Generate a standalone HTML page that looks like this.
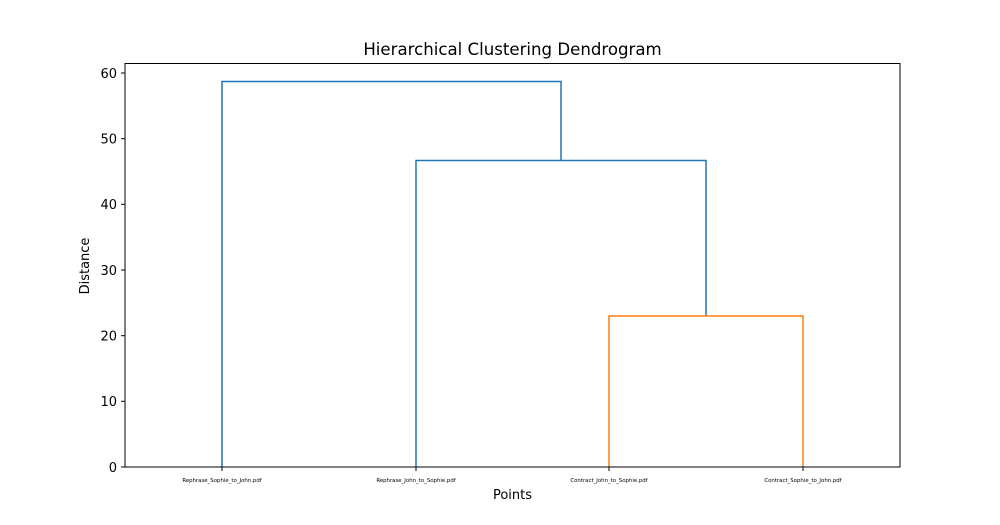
<!DOCTYPE html>
<html><head><style>html,body{margin:0;padding:0;background:#fff}svg{display:block}</style></head><body>
<svg width="1000" height="525" xmlns="http://www.w3.org/2000/svg" font-family="DejaVu Sans, Liberation Sans, sans-serif">
<rect width="1000" height="525" fill="#fff"/>
<text x="512.5" y="55" font-size="16.6" text-anchor="middle" fill="#000">Hierarchical Clustering Dendrogram</text>
<g fill="none" stroke-width="1.5">
<path d="M222 467V81.5H561V160" stroke="#1f77b4"/>
<path d="M416 467V160.5H706V316" stroke="#1f77b4"/>
<path d="M609 467V316H803V467" stroke="#ff7f0e"/>
</g>
<rect x="125" y="63.5" width="775" height="403.5" fill="none" stroke="#000" stroke-width="1"/>
<g stroke="#000" stroke-width="1">
<line x1="121" x2="125" y1="467" y2="467"/><line x1="121" x2="125" y1="401.3" y2="401.3"/>
<line x1="121" x2="125" y1="335.7" y2="335.7"/><line x1="121" x2="125" y1="270" y2="270"/>
<line x1="121" x2="125" y1="204.3" y2="204.3"/><line x1="121" x2="125" y1="138.7" y2="138.7"/>
<line x1="121" x2="125" y1="73" y2="73"/>
<line x1="222" x2="222" y1="467" y2="471"/><line x1="416" x2="416" y1="467" y2="471"/>
<line x1="609" x2="609" y1="467" y2="471"/><line x1="803" x2="803" y1="467" y2="471"/>
</g>
<g font-size="13" text-anchor="end" fill="#000">
<text x="117" y="472">0</text><text x="117" y="406">10</text><text x="117" y="340.5">20</text>
<text x="117" y="275">30</text><text x="117" y="209">40</text><text x="117" y="143.5">50</text><text x="117" y="78">60</text>
</g>
<g font-size="5.4" text-anchor="middle" fill="#000">
<text x="222" y="482">Rephrase_Sophie_to_John.pdf</text>
<text x="416" y="482">Rephrase_John_to_Sophie.pdf</text>
<text x="609" y="482">Contract_John_to_Sophie.pdf</text>
<text x="803" y="482">Contract_Sophie_to_John.pdf</text>
</g>
<text x="512.5" y="499" font-size="13" text-anchor="middle">Points</text>
<text transform="translate(89,266) rotate(-90)" font-size="13" text-anchor="middle">Distance</text>
</svg>
</body></html>
